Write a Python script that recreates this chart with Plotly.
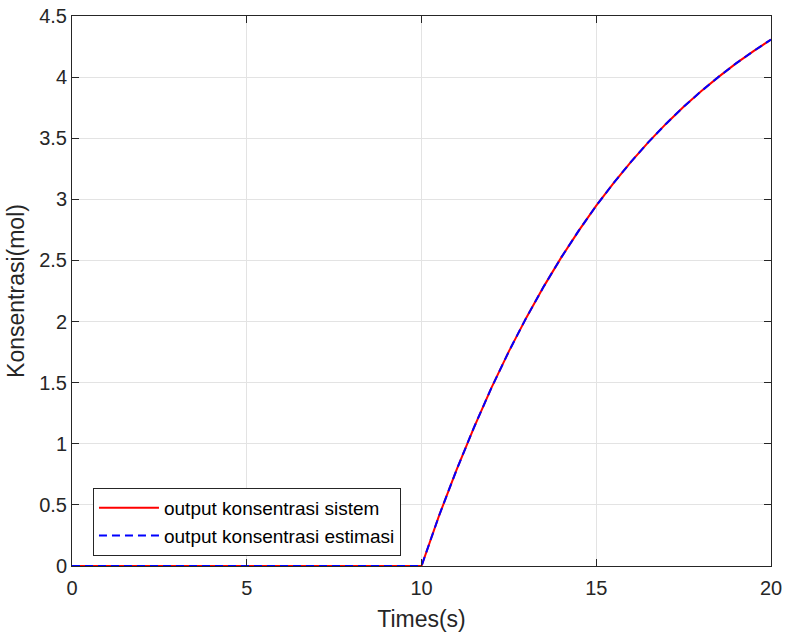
import plotly.graph_objects as go

t = [0, 5, 10, 10.5, 11, 11.5, 12, 12.5, 13, 13.5, 14, 14.5, 15, 15.5, 16, 16.5, 17, 17.5, 18, 18.5, 19, 19.5, 20]
y_sistem = [0, 0, 0, 0.41, 0.784, 1.133, 1.457, 1.756, 2.032, 2.288, 2.525, 2.744, 2.948, 3.135, 3.309, 3.470, 3.619, 3.757, 3.884, 4.002, 4.112, 4.213, 4.307]
y_estimasi = [0, 0, 0, 0.41, 0.784, 1.133, 1.457, 1.756, 2.032, 2.288, 2.525, 2.744, 2.948, 3.135, 3.309, 3.470, 3.619, 3.757, 3.884, 4.002, 4.112, 4.213, 4.307]
x_ticks = [0, 5, 10, 15, 20]
y_ticks = [0, 0.5, 1, 1.5, 2, 2.5, 3, 3.5, 4, 4.5]
y_ticktext = ["0", "0.5", "1", "1.5", "2", "2.5", "3", "3.5", "4", "4.5"]

FONT = "Liberation Sans, Arial, sans-serif"
AX = "#262626"

fig = go.Figure()
fig.add_trace(go.Scatter(x=t, y=y_sistem, mode="lines", name="output konsentrasi sistem",
                         line=dict(color="#ff0000", width=2)))
fig.add_trace(go.Scatter(x=t, y=y_estimasi, mode="lines", name="output konsentrasi estimasi",
                         line=dict(color="#0000ff", width=2, dash="8px,5px")))

axis_common = dict(showline=True, linecolor=AX, linewidth=1, mirror="allticks",
                   ticks="inside", ticklen=7, tickcolor=AX, tickwidth=1,
                   showgrid=True, gridcolor="#e3e3e3", gridwidth=1, zeroline=False,
                   automargin=False,
                   tickfont=dict(family=FONT, size=20, color=AX))

fig.update_xaxes(range=[0, 20], tickvals=x_ticks, ticktext=[str(v) for v in x_ticks],
                 ticklabelstandoff=4,
                 title=dict(text="Times(s)", font=dict(family=FONT, size=23, color=AX), standoff=12),
                 **axis_common)
fig.update_yaxes(range=[0, 4.5], tickvals=y_ticks, ticktext=y_ticktext,
                 title=dict(text="Konsentrasi(mol)", font=dict(family=FONT, size=23, color=AX), standoff=8),
                 **axis_common)

fig.update_layout(
    template="none",
    width=785, height=639,
    margin=dict(l=72, r=14, t=16, b=73, autoexpand=False),
    paper_bgcolor="white", plot_bgcolor="white",
    showlegend=True,
    legend=dict(x=0.03, y=0.142, xanchor="left", yanchor="top",
                bgcolor="white", bordercolor=AX, borderwidth=1,
                font=dict(family=FONT, size=19, color="#000000"),
                itemwidth=60, tracegroupgap=0),
)

fig.write_html("out.html")
